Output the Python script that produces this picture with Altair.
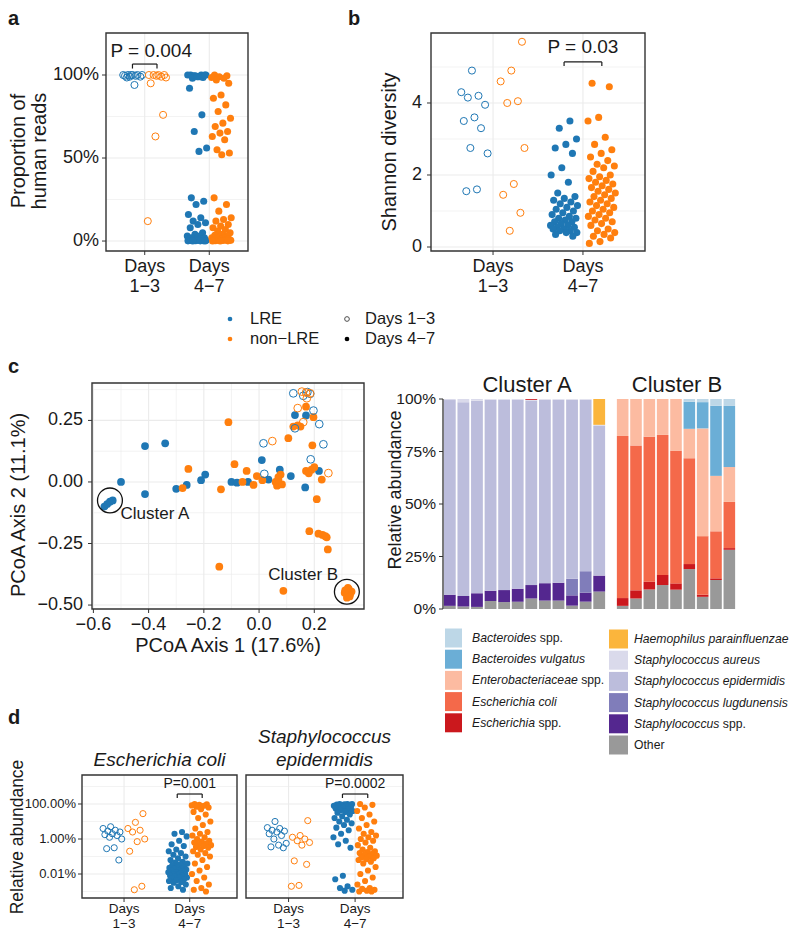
import altair as alt
import pandas as pd

W, H = 784, 923
OX, OY = 8, 8
FONT = "Liberation Sans"
BLUE, ORANGE = "#1f77b4", "#ff7f0e"
GRID, FRAME, TXT = "#ebebeb", "#333333", "#1a1a1a"
ONE = alt.Data(values=[{}])
MINUS = "\u2212"


def X(p):
    return p - OX


def Y(p):
    return p - OY


groups = ["LRE", "non-LRE"]
day_ticks = [1, 2]
day_names = ["Days\n1" + MINUS + "3", "Days\n4" + MINUS + "7"]

# ---------------- panel a: proportion of human reads ----------------
a_lre_d13 = [1.0, 1.0, 0.995, 1.0, 0.99, 1.0, 0.995, 1.0, 0.99, 1.0, 0.94, 0.985]
a_non_d13 = [1.0, 0.995, 1.0, 0.99, 1.0, 0.985, 1.0, 0.95, 0.76, 0.63, 0.12]
a_lre_d47 = [1.0, 0.995, 1.0, 0.99, 1.0, 0.985, 0.995, 1.0, 0.99, 0.98, 1.0, 0.99,
             0.92, 0.76, 0.66, 0.56, 0.54, 0.26, 0.24, 0.22, 0.16, 0.14, 0.12, 0.11,
             0.10, 0.08, 0.05, 0.04, 0.03, 0.03, 0.02, 0.02, 0.015, 0.01, 0.01, 0.008,
             0.005, 0.005, 0.003, 0.002, 0.002, 0.001, 0.001, 0.0, 0.0]
a_non_d47 = [1.0, 0.995, 0.99, 0.985, 0.98, 0.97, 0.95, 0.88, 0.86, 0.82, 0.78, 0.74,
             0.71, 0.69, 0.66, 0.65, 0.63, 0.61, 0.55, 0.53, 0.52, 0.26, 0.22, 0.18,
             0.14, 0.13, 0.12, 0.10, 0.09, 0.08, 0.07, 0.06, 0.05, 0.04, 0.035, 0.03,
             0.025, 0.02, 0.02, 0.015, 0.012, 0.01, 0.008, 0.006, 0.005, 0.004, 0.003,
             0.002, 0.001, 0.0, 0.0]

# ---------------- panel b: Shannon diversity ----------------
b_lre_d13 = [4.9, 4.3, 4.2, 4.15, 3.95, 3.6, 3.5, 3.3, 2.75, 2.6, 1.6, 1.55]
b_non_d13 = [5.7, 4.9, 4.6, 4.05, 4.0, 2.75, 1.75, 1.45, 0.95, 0.45]
b_lre_d47 = [3.5, 3.3, 3.0, 2.85, 2.75, 2.6, 2.2, 2.0, 1.8, 1.5, 1.4, 1.35, 1.3, 1.25,
             1.2, 1.15, 1.1, 1.05, 1.0, 0.95, 0.9, 0.85, 0.8, 0.8, 0.75, 0.7, 0.7, 0.65,
             0.6, 0.6, 0.55, 0.55, 0.5, 0.5, 0.45, 0.45, 0.4, 0.4, 0.35, 0.3]
b_non_d47 = [4.55, 4.45, 3.6, 3.5, 3.05, 2.85, 2.7, 2.6, 2.5, 2.4, 2.3, 2.25, 2.2, 2.1,
             2.0, 1.95, 1.9, 1.85, 1.8, 1.75, 1.7, 1.65, 1.6, 1.55, 1.5, 1.45, 1.4, 1.35,
             1.3, 1.25, 1.2, 1.15, 1.1, 1.05, 1.0, 0.95, 0.9, 0.85, 0.8, 0.75, 0.7, 0.65,
             0.6, 0.5, 0.45, 0.4, 0.35, 0.3, 0.25, 0.15, 0.1]

# ---------------- panel c: PCoA ----------------
c_lre47_x = [-0.56, -0.55, -0.54, -0.53, -0.5, -0.413, -0.413, -0.34, -0.3, -0.262,
             -0.21, -0.195, -0.1, -0.08, -0.04, 0.01, 0.034, 0.075, 0.115, 0.13, 0.17,
             0.167, 0.217]
c_lre47_y = [-0.1, -0.09, -0.08, -0.075, 0.0, 0.146, -0.049, 0.157, -0.028, -0.012,
             0.007, 0.03, 0.0, -0.003, 0.0, 0.089, 0.01, 0.05, 0.024, 0.272, 0.27,
             -0.022, 0.045]
c_non47_x = [-0.111, -0.256, -0.277, -0.138, -0.089, -0.045, -0.06, -0.02, -0.008,
             0.012, 0.06, 0.065, 0.07, 0.078, 0.083, 0.07, 0.106, 0.124, 0.14, 0.15,
             0.17, 0.197, 0.193, 0.17, 0.18, 0.19, 0.2, 0.227, 0.209, 0.182, 0.215,
             0.23, 0.245, 0.24, 0.249, -0.144, 0.088, 0.31, 0.315, 0.32, 0.325, 0.33,
             0.335, 0.318, 0.328, 0.322, 0.312]
c_non47_y = [0.243, 0.053, -0.025, -0.03, 0.072, 0.045, 0.0, -0.012, 0.024, 0.007,
             0.0, -0.015, 0.02, 0.03, -0.01, 0.01, 0.178, 0.225, 0.23, 0.225, 0.306,
             0.263, 0.149, 0.045, 0.035, 0.05, 0.06, 0.01, -0.07, -0.2, -0.21, -0.215,
             -0.225, -0.22, -0.274, -0.344, -0.442, -0.45, -0.44, -0.46, -0.435,
             -0.455, -0.445, -0.47, -0.465, -0.43, -0.44]
c_lre13_x = [0.124, 0.185, 0.197, 0.13, 0.218, 0.233, 0.016, 0.019, 0.187, 0.16, 0.175]
c_lre13_y = [0.36, 0.358, 0.29, 0.218, 0.235, 0.153, 0.157, 0.033, 0.092, 0.35, 0.365]
c_non13_x = [0.048, 0.155, 0.17, 0.173, 0.16, 0.251, 0.14, 0.185]
c_non13_y = [0.166, 0.367, 0.363, 0.34, 0.243, 0.036, 0.3, 0.36]
cluster_names = ["Cluster A", "Cluster B"]
cluster_x = [-0.54, 0.318]
cluster_y = [-0.075, -0.446]

# ---------------- panel c: composition bars (percent) ----------------
taxa = ["Bacteroides spp.", "Bacteroides vulgatus", "Enterobacteriaceae spp.",
        "Escherichia coli", "Escherichia spp.", "Haemophilus parainfluenzae",
        "Staphylococcus aureus", "Staphylococcus epidermidis",
        "Staphylococcus lugdunensis", "Staphylococcus spp.", "Other"]
taxa_colors = ["#bdd7e7", "#6baed6", "#fcbba1", "#f4694a", "#cb181d", "#fbb53c",
               "#dadaeb", "#bcbddc", "#807dba", "#54278f", "#999999"]
clusterA = {
    "Other": [1.5, 1.2, 1.0, 3.8, 3.3, 3.5, 5.0, 4.0, 4.0, 1.6, 3.5, 8.3],
    "Staphylococcus spp.": [5.3, 5.0, 6.5, 4.9, 5.7, 6.2, 6.4, 8.3, 8.5, 4.9, 4.3, 7.6],
    "Staphylococcus lugdunensis": [0, 0, 0, 0, 0, 0, 0, 0, 0, 7.9, 10.2, 0],
    "Staphylococcus epidermidis": [92.7, 92.3, 91.7, 91.0, 90.7, 90.0, 87.9, 87.4,
                                   87.2, 85.3, 81.7, 71.3],
    "Staphylococcus aureus": [0.5, 1.5, 0.8, 0.3, 0.3, 0.3, 0.3, 0.3, 0.3, 0.3, 0.3, 0.5],
    "Haemophilus parainfluenzae": [0, 0, 0, 0, 0, 0, 0, 0, 0, 0, 0, 12.3],
    "Escherichia spp.": [0, 0, 0, 0, 0, 0, 0.4, 0, 0, 0, 0, 0],
}
clusterB = {
    "Other": [1.5, 5.0, 9.3, 11.4, 9.2, 19.0, 5.8, 13.8, 28.2],
    "Escherichia spp.": [3.7, 3.9, 3.7, 4.8, 3.0, 2.4, 1.0, 0.8, 0.8],
    "Escherichia coli": [77.2, 69.0, 69.0, 66.7, 63.1, 50.4, 27.9, 22.4, 22.0],
    "Enterobacteriaceae spp.": [17.6, 22.1, 18.0, 17.1, 24.7, 14.0, 51.3, 26.4, 16.6],
    "Bacteroides vulgatus": [0, 0, 0, 0, 0, 12.9, 12.5, 33.4, 29.1],
    "Bacteroides spp.": [0, 0, 0, 0, 0, 1.3, 1.5, 3.2, 3.3],
}

# ---------------- panel d: relative abundance (log10 of fraction) ----------------
d_ec_lre13 = [-1.3, -1.4, -1.5, -1.55, -1.6, -1.7, -1.75, -1.8, -1.9, -2.0, -2.5, -2.55, -3.2]
d_ec_non13 = [-0.55, -1.05, -1.4, -1.5, -1.6, -2.0, -2.15, -2.7, -4.7, -4.9]
d_ec_lre47 = [-1.6, -1.7, -1.85, -2.1, -2.3, -2.4, -2.6, -2.7, -2.8, -2.9, -3.0, -3.1,
              -3.2, -3.3, -3.35, -3.4, -3.45, -3.5, -3.55, -3.6, -3.65, -3.7, -3.7,
              -3.75, -3.8, -3.8, -3.85, -3.9, -3.9, -3.95, -4.0, -4.0, -4.05, -4.1,
              -4.1, -4.15, -4.2, -4.2, -4.25, -4.3, -4.35, -4.4, -4.45, -4.5, -4.6,
              -4.7, -4.8, -4.9]
d_ec_non47 = [0.0, -0.02, -0.05, -0.08, -0.1, -0.15, -0.2, -0.3, -0.45, -0.6, -0.8,
              -1.0, -1.2, -1.4, -1.6, -1.7, -1.8, -1.9, -2.0, -2.1, -2.15, -2.2, -2.25,
              -2.3, -2.35, -2.4, -2.45, -2.5, -2.6, -2.7, -2.8, -2.9, -3.0, -3.2, -3.4,
              -3.6, -3.8, -4.0, -4.2, -4.4, -4.6, -4.8, -4.9, -5.0]
d_se_lre13 = [-1.0, -1.35, -1.4, -1.5, -1.55, -1.6, -1.7, -1.8, -2.0, -2.25, -2.35, -2.45, -2.5]
d_se_non13 = [-0.95, -1.8, -1.9, -2.0, -2.1, -2.2, -2.35, -3.25, -3.45, -4.65, -4.7]
d_se_lre47 = [0.0, 0.0, -0.01, -0.02, -0.03, -0.05, -0.07, -0.1, -0.12, -0.15, -0.18,
              -0.2, -0.25, -0.3, -0.35, -0.4, -0.45, -0.5, -0.6, -0.7, -0.8, -0.9, -1.0,
              -1.1, -1.2, -1.35, -1.5, -1.7, -1.9, -2.1, -2.3, -2.5, -4.1, -4.3, -4.7,
              -4.8, -4.9, -4.95]
d_se_non47 = [0.0, -0.05, -0.2, -0.4, -0.6, -0.8, -1.0, -1.2, -1.4, -1.6, -1.7, -1.8,
              -1.9, -2.0, -2.1, -2.2, -2.35, -2.5, -2.6, -2.7, -2.75, -2.8, -2.85, -2.9,
              -2.95, -3.0, -3.05, -3.1, -3.15, -3.2, -3.3, -3.4, -3.6, -3.8, -4.0, -4.2,
              -4.4, -4.6, -4.8, -4.85, -4.9, -4.95, -5.0, -5.0]


# ======================= helpers =======================
def jitter_df(series, dodge, spread):
    rows = []
    for day_i, grp, vals in series:
        off = -dodge if grp == "LRE" else dodge
        phase = (0.13 if grp == "LRE" else 0.57) + 0.29 * day_i
        for k, v in enumerate(vals):
            j = ((phase + k * 0.6180339887) % 1.0) * 2 - 1
            rows.append({"x": day_i + off + j * spread, "v": v, "grp": grp, "day": day_i})
    return pd.DataFrame(rows)


def lin(dom, r0, r1):
    return alt.Scale(domain=dom, range=[r0, r1], nice=False, zero=False)


def text_at(text, x, y, size, align="center", baseline="middle", angle=None,
            weight="normal", style="normal", line_height=None):
    kw = dict(text=text, fontSize=size, font=FONT, color=TXT, align=align,
              baseline=baseline, fontWeight=weight, fontStyle=style)
    if angle is not None:
        kw["angle"] = angle
    if line_height is not None:
        kw["lineHeight"] = line_height
    return alt.Chart(ONE).mark_text(**kw).encode(x=alt.value(X(x)), y=alt.value(Y(y)))


def y_ticks(vals, fmt, ys, x_page, size, pad=3):
    df = pd.DataFrame({"v": vals})
    t = alt.Chart(df).mark_rule(color=FRAME, strokeWidth=1).encode(
        y=alt.Y("v:Q", scale=ys, axis=None), x=alt.value(X(x_page - 4)), x2=alt.value(X(x_page)))
    lab = alt.Chart(df).mark_text(align="right", baseline="middle", fontSize=size, font=FONT,
                                  color=TXT).encode(
        y=alt.Y("v:Q", scale=ys, axis=None), x=alt.value(X(x_page - 4 - pad)),
        text=alt.Text("v:Q", format=fmt))
    return [t, lab]


def x_ticks(vals, xs, y_page, size, fmt=None, names=None, pad=2, line_height=None):
    df = pd.DataFrame({"v": vals})
    if names is not None:
        df["t"] = names
    t = alt.Chart(df).mark_rule(color=FRAME, strokeWidth=1).encode(
        x=alt.X("v:Q", scale=xs, axis=None), y=alt.value(Y(y_page)), y2=alt.value(Y(y_page + 4)))
    kw = dict(align="center", baseline="top", fontSize=size, font=FONT, color=TXT, lineBreak="\n")
    if line_height:
        kw["lineHeight"] = line_height
    text_enc = alt.Text("t:N") if names is not None else alt.Text("v:Q", format=fmt)
    lab = alt.Chart(df).mark_text(**kw).encode(
        x=alt.X("v:Q", scale=xs, axis=None), y=alt.value(Y(y_page + 4 + pad)), text=text_enc)
    return [t, lab]


COLS = alt.Scale(domain=groups, range=[BLUE, ORANGE])


def frame(box):
    x0, x1, y0, y1 = box
    return alt.Chart(ONE).mark_rect(fillOpacity=0, stroke=FRAME, strokeWidth=1.4).encode(
        x=alt.value(X(x0)), x2=alt.value(X(x1)), y=alt.value(Y(y0)), y2=alt.value(Y(y1)))


def pval_layers(p, xs, ys, size):
    seg = pd.DataFrame({
        "x": [p["xc"] - p["half"], p["xc"] - p["half"], p["xc"] + p["half"]],
        "x2": [p["xc"] + p["half"], p["xc"] - p["half"], p["xc"] + p["half"]],
        "y": [p["ybar"]] * 3,
        "y2": [p["ybar"], p["ytick"], p["ytick"]],
    })
    rule = alt.Chart(seg).mark_rule(color=TXT, strokeWidth=1.2).encode(
        x=alt.X("x:Q", scale=xs, axis=None), x2="x2:Q",
        y=alt.Y("y:Q", scale=ys, axis=None), y2="y2:Q")
    lab = alt.Chart(pd.DataFrame({"x": [p["xt"]], "y": [p["yt"]], "t": [p["text"]]})).mark_text(
        fontSize=size, font=FONT, color=TXT, baseline="middle").encode(
        x=alt.X("x:Q", scale=xs, axis=None), y=alt.Y("y:Q", scale=ys, axis=None), text="t:N")
    return [rule, lab]


def strip_panel(df, box, xdom, ydom, ymaj, ymin, yfmt, ysize, ypad, xsize, xlh, xpad,
                psize, log=False, pv=None, pvsize=18):
    x0, x1, y0, y1 = box
    xs = lin(xdom, X(x0), X(x1))
    if log:
        ys = alt.Scale(type="log", domain=ydom, range=[Y(y1), Y(y0)], nice=False)
    else:
        ys = lin(ydom, Y(y1), Y(y0))
    layers = [
        alt.Chart(pd.DataFrame({"g": ymin})).mark_rule(color=GRID, strokeWidth=0.6).encode(
            y=alt.Y("g:Q", scale=ys, axis=None), x=alt.value(X(x0)), x2=alt.value(X(x1))),
        alt.Chart(pd.DataFrame({"g": ymaj})).mark_rule(color=GRID, strokeWidth=1.1).encode(
            y=alt.Y("g:Q", scale=ys, axis=None), x=alt.value(X(x0)), x2=alt.value(X(x1))),
        alt.Chart(pd.DataFrame({"g": day_ticks})).mark_rule(color=GRID, strokeWidth=1.1).encode(
            x=alt.X("g:Q", scale=xs, axis=None), y=alt.value(Y(y0)), y2=alt.value(Y(y1))),
        alt.Chart(df).transform_filter("datum.day == 1").mark_point(
            filled=False, size=psize, strokeWidth=1.0, opacity=1).encode(
            x=alt.X("x:Q", scale=xs, axis=None), y=alt.Y("v:Q", scale=ys, axis=None),
            color=alt.Color("grp:N", scale=COLS, legend=None)),
        alt.Chart(df).transform_filter("datum.day == 2").mark_circle(
            size=psize, opacity=1).encode(
            x=alt.X("x:Q", scale=xs, axis=None), y=alt.Y("v:Q", scale=ys, axis=None),
            color=alt.Color("grp:N", scale=COLS, legend=None)),
        frame(box),
    ]
    if yfmt:
        layers += y_ticks(ymaj, yfmt, ys, x0, ysize, ypad)
    layers += x_ticks(day_ticks, xs, y1, xsize, names=day_names, pad=xpad, line_height=xlh)
    if pv:
        layers += pval_layers(pv, xs, ys, pvsize)
    return alt.layer(*layers)


layers = []

# ======================= panel a =======================
A_BOX = (106, 248, 33, 251)
df_a = jitter_df([(1, "LRE", a_lre_d13), (1, "non-LRE", a_non_d13),
                  (2, "LRE", a_lre_d47), (2, "non-LRE", a_non_d47)], 0.19, 0.155)
layers.append(strip_panel(
    df_a, A_BOX, [0.4, 2.6], [-0.060, 1.253], [0, 0.5, 1], [0.25, 0.75],
    ".0%", 18, 3, 18, 20, 2.5, 50,
    pv=dict(text="P = 0.004", xc=1, half=0.19, ybar=1.066, ytick=1.039, xt=1.1, yt=1.145),
    pvsize=19))
layers.append(text_at(["Proportion of", "human reads"], 19, 151, 20, angle=270, line_height=21))
layers.append(text_at("a", 8, 18.5, 20, align="left", weight="bold"))

# ======================= panel b =======================
B_BOX = (431, 645, 33, 251)
df_b = jitter_df([(1, "LRE", b_lre_d13), (1, "non-LRE", b_non_d13),
                  (2, "LRE", b_lre_d47), (2, "non-LRE", b_non_d47)], 0.21, 0.155)
layers.append(strip_panel(
    df_b, B_BOX, [0.31, 2.69], [-0.111, 5.944], [0, 2, 4], [1, 3, 5],
    "d", 18, 5, 18, 20, 2.5, 50,
    pv=dict(text="P = 0.03", xc=2, half=0.21, ybar=5.14, ytick=5.03, xt=2, yt=5.56),
    pvsize=19))
layers.append(text_at("Shannon diversity", 390, 152, 20, angle=270))
layers.append(text_at("b", 348, 18.5, 20, align="left", weight="bold"))

# ======================= legend row =======================
LG1, LG2, LGF = 319, 339, 16.5
layers.append(alt.Chart(ONE).mark_circle(size=22, color=BLUE, opacity=1).encode(
    x=alt.value(X(230)), y=alt.value(Y(LG1))))
layers.append(alt.Chart(ONE).mark_circle(size=22, color=ORANGE, opacity=1).encode(
    x=alt.value(X(230)), y=alt.value(Y(LG2))))
layers.append(text_at("LRE", 250, LG1, LGF, align="left"))
layers.append(text_at("non" + MINUS + "LRE", 250, LG2, LGF, align="left"))
layers.append(alt.Chart(ONE).mark_point(size=22, color="#000000", filled=False, strokeWidth=1).encode(
    x=alt.value(X(347)), y=alt.value(Y(LG1))))
layers.append(alt.Chart(ONE).mark_circle(size=22, color="#000000", opacity=1).encode(
    x=alt.value(X(347)), y=alt.value(Y(LG2))))
layers.append(text_at("Days 1" + MINUS + "3", 365, LG1, LGF, align="left"))
layers.append(text_at("Days 4" + MINUS + "7", 365, LG2, LGF, align="left"))

# ======================= panel c: PCoA =======================
C_BOX = (92, 364, 383, 609)
cx0, cx1, cy0, cy1 = C_BOX
cxs = lin([-0.605, 0.38], X(cx0), X(cx1))
cys = lin([-0.516, 0.402], Y(cy1), Y(cy0))
pc_rows = []
for grp, day, xsv, ysv in [("LRE", 2, c_lre47_x, c_lre47_y), ("non-LRE", 2, c_non47_x, c_non47_y),
                           ("LRE", 1, c_lre13_x, c_lre13_y), ("non-LRE", 1, c_non13_x, c_non13_y)]:
    for a, b in zip(xsv, ysv):
        pc_rows.append({"px": a, "py": b, "grp": grp, "day": day})
df_c = pd.DataFrame(pc_rows)
c_xmaj = [-0.6, -0.4, -0.2, 0.0, 0.2]
c_ymaj = [-0.5, -0.25, 0.0, 0.25]
c_layers = [
    alt.Chart(pd.DataFrame({"g": [-0.5, -0.3, -0.1, 0.1, 0.3]})).mark_rule(color=GRID, strokeWidth=0.6).encode(
        x=alt.X("g:Q", scale=cxs, axis=None), y=alt.value(Y(cy0)), y2=alt.value(Y(cy1))),
    alt.Chart(pd.DataFrame({"g": [-0.375, -0.125, 0.125, 0.375]})).mark_rule(color=GRID, strokeWidth=0.6).encode(
        y=alt.Y("g:Q", scale=cys, axis=None), x=alt.value(X(cx0)), x2=alt.value(X(cx1))),
    alt.Chart(pd.DataFrame({"g": c_xmaj})).mark_rule(color=GRID, strokeWidth=1.1).encode(
        x=alt.X("g:Q", scale=cxs, axis=None), y=alt.value(Y(cy0)), y2=alt.value(Y(cy1))),
    alt.Chart(pd.DataFrame({"g": c_ymaj})).mark_rule(color=GRID, strokeWidth=1.1).encode(
        y=alt.Y("g:Q", scale=cys, axis=None), x=alt.value(X(cx0)), x2=alt.value(X(cx1))),
    alt.Chart(df_c).transform_filter("datum.day == 2").mark_circle(size=60, opacity=1).encode(
        x=alt.X("px:Q", scale=cxs, axis=None), y=alt.Y("py:Q", scale=cys, axis=None),
        color=alt.Color("grp:N", scale=COLS, legend=None)),
    alt.Chart(df_c).transform_filter("datum.day == 1").mark_point(size=60, filled=False, strokeWidth=1.0, opacity=1).encode(
        x=alt.X("px:Q", scale=cxs, axis=None), y=alt.Y("py:Q", scale=cys, axis=None),
        color=alt.Color("grp:N", scale=COLS, legend=None)),
    alt.Chart(pd.DataFrame({"x": cluster_x, "y": cluster_y})).mark_point(
        size=620, filled=False, color="#111111", strokeWidth=1.3, opacity=1).encode(
        x=alt.X("x:Q", scale=cxs, axis=None), y=alt.Y("y:Q", scale=cys, axis=None)),
    alt.Chart(pd.DataFrame({"x": [-0.377, 0.16], "y": [-0.13, -0.378], "t": cluster_names})).mark_text(
        fontSize=17, font=FONT, color=TXT, baseline="middle").encode(
        x=alt.X("x:Q", scale=cxs, axis=None), y=alt.Y("y:Q", scale=cys, axis=None), text="t:N"),
    frame(C_BOX),
]
c_layers += y_ticks(c_ymaj, ".2f", cys, cx0, 18, 5)
c_layers += x_ticks(c_xmaj, cxs, cy1, 18, fmt=".1f", pad=3)
layers.append(alt.layer(*c_layers))
layers.append(text_at("PCoA Axis 1 (17.6%)", 228, 646, 20))
layers.append(text_at("PCoA Axis 2 (11.1%)", 19, 505, 20, angle=270))
layers.append(text_at("c", 8, 367, 20, align="left", weight="bold"))

# ======================= panel c: bars =======================
BAR_Y0, BAR_Y1 = 399, 609


def bar_chart(prefix, comp, x0, x1, with_axis):
    n = len(next(iter(comp.values())))
    ids = [f"{prefix}{i + 1}" for i in range(n)]
    rows = []
    for t, vals in comp.items():
        for i, v in enumerate(vals):
            if v > 0:
                rows.append({"bar": ids[i], "taxon": t, "val": v / 100.0,
                             "ord": len(taxa) - 1 - taxa.index(t)})
    xs = alt.Scale(domain=ids, range=[X(x0), X(x1)], paddingInner=0.13, paddingOuter=0.065)
    ys = lin([0, 1], Y(BAR_Y1), Y(BAR_Y0))
    parts = [alt.Chart(pd.DataFrame(rows)).mark_bar().encode(
        x=alt.X("bar:N", scale=xs, axis=None),
        y=alt.Y("val:Q", stack="zero", scale=ys, axis=None),
        color=alt.Color("taxon:N", scale=alt.Scale(domain=taxa, range=taxa_colors), legend=None),
        order=alt.Order("ord:Q"))]
    if with_axis:
        parts.append(alt.Chart(ONE).mark_rule(color=FRAME, strokeWidth=1.3).encode(
            x=alt.value(X(x0)), y=alt.value(Y(BAR_Y0)), y2=alt.value(Y(BAR_Y1))))
        parts += y_ticks([0, 0.25, 0.5, 0.75, 1], ".0%", ys, x0, 15.5, 3)
    return alt.layer(*parts)


layers.append(bar_chart("A", clusterA, 443, 606, True))
layers.append(bar_chart("B", clusterB, 616, 736, False))
layers.append(text_at("Cluster A", 527, 385, 22))
layers.append(text_at("Cluster B", 677, 385, 22))
layers.append(text_at("Relative abundance", 396, 490, 18, angle=270))

# bar legend (manual, two columns)
AW = {"a": 556, "b": 556, "c": 500, "d": 556, "e": 556, "f": 278, "g": 556, "h": 556,
      "i": 222, "j": 222, "k": 500, "l": 222, "m": 833, "n": 556, "o": 556, "p": 556,
      "q": 556, "r": 333, "s": 500, "t": 278, "u": 556, "v": 500, "w": 722, "x": 500,
      "y": 500, "z": 500, "B": 667, "E": 667, "H": 722, "S": 667, "O": 778, " ": 278}


def tw(s, size):
    return sum(AW.get(ch, 556) for ch in s) * size / 1000.0


LEG_FS = 12.2
leg_items = [
    (0, 0, "Bacteroides", "spp."), (0, 1, "Bacteroides vulgatus", ""),
    (0, 2, "Enterobacteriaceae", "spp."), (0, 3, "Escherichia coli", ""),
    (0, 4, "Escherichia", "spp."), (1, 0, "Haemophilus parainfluenzae", ""),
    (1, 1, "Staphylococcus aureus", ""), (1, 2, "Staphylococcus epidermidis", ""),
    (1, 3, "Staphylococcus lugdunensis", ""), (1, 4, "Staphylococcus", "spp."),
    (1, 5, "", "Other"),
]
col_sw = [(445, 462), (609, 628)]
col_tx = [472, 634]
col_y = [638, 639]
ROW = 21.2
sw_rows, it_rows, rm_rows = [], [], []
for col, row, ital, rom in leg_items:
    name = (ital + " " + rom).strip()
    cy = col_y[col] + ROW * row
    sw_rows.append({"x": X(col_sw[col][0]), "x2": X(col_sw[col][1]),
                    "y": Y(cy - 9.5), "y2": Y(cy + 9.5), "taxon": name})
    if ital:
        it_rows.append({"x": X(col_tx[col]), "y": Y(cy), "t": ital})
    if rom:
        off = tw(ital + " ", LEG_FS) if ital else 0
        rm_rows.append({"x": X(col_tx[col] + off), "y": Y(cy), "t": rom})
layers.append(alt.Chart(pd.DataFrame(sw_rows)).mark_rect().encode(
    x=alt.X("x:Q", scale=None), x2="x2:Q", y=alt.Y("y:Q", scale=None), y2="y2:Q",
    color=alt.Color("taxon:N", scale=alt.Scale(domain=taxa, range=taxa_colors), legend=None)))
layers.append(alt.Chart(pd.DataFrame(it_rows)).mark_text(
    fontSize=LEG_FS, font=FONT, fontStyle="italic", color=TXT, align="left", baseline="middle").encode(
    x=alt.X("x:Q", scale=None), y=alt.Y("y:Q", scale=None), text="t:N"))
layers.append(alt.Chart(pd.DataFrame(rm_rows)).mark_text(
    fontSize=LEG_FS, font=FONT, color=TXT, align="left", baseline="middle").encode(
    x=alt.X("x:Q", scale=None), y=alt.Y("y:Q", scale=None), text="t:N"))

# ======================= panel d =======================
D_Y0, D_Y1 = 775, 898
d_ydom = [10 ** -5.371, 10 ** 1.657]
d_xdom = [0.36, 2.72]
ymaj_d = [1e-4, 1e-2, 1.0]
ymin_d = [1e-5, 1e-3, 1e-1, 10.0]


def d_df(series):
    df = jitter_df(series, 0.18, 0.15)
    df["v"] = 10 ** df["v"]
    return df


df_ec = d_df([(1, "LRE", d_ec_lre13), (1, "non-LRE", d_ec_non13),
              (2, "LRE", d_ec_lre47), (2, "non-LRE", d_ec_non47)])
df_se = d_df([(1, "LRE", d_se_lre13), (1, "non-LRE", d_se_non13),
              (2, "LRE", d_se_lre47), (2, "non-LRE", d_se_non47)])
py_text, py_bar, py_tick = 10 ** 1.143, 10 ** 0.571, 10 ** 0.343
layers.append(strip_panel(
    df_ec, (82, 237, D_Y0, D_Y1), d_xdom, d_ydom, ymaj_d, ymin_d,
    ".2%", 13, 2, 13.5, 14.5, 0, 38, log=True,
    pv=dict(text="P=0.001", xc=2, half=0.19, ybar=py_bar, ytick=py_tick, xt=2, yt=py_text),
    pvsize=14))
layers.append(strip_panel(
    df_se, (246, 403, D_Y0, D_Y1), d_xdom, d_ydom, ymaj_d, ymin_d,
    None, 13, 2, 13.5, 14.5, 0, 38, log=True,
    pv=dict(text="P=0.0002", xc=2, half=0.19, ybar=py_bar, ytick=py_tick, xt=2, yt=py_text),
    pvsize=14))
layers.append(text_at("Escherichia coli", 159.5, 760, 19, style="italic"))
layers.append(text_at(["Staphylococcus", "epidermidis"], 324.5, 737, 19, style="italic", line_height=23))
layers.append(text_at("Relative abundance", 17.5, 837, 17.5, angle=270))
layers.append(text_at("d", 8, 718, 20, align="left", weight="bold"))

chart = alt.layer(*layers).resolve_scale(
    x="independent", y="independent", color="independent"
).properties(
    width=W, height=H, padding=0, autosize=alt.AutoSizeParams(type="none")
).configure(font=FONT).configure_view(stroke=None)

chart.save("out.html", embed_options={"renderer": "svg", "actions": False})
